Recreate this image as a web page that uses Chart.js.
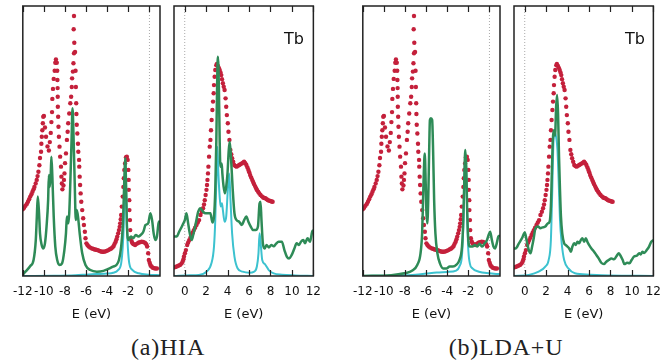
<!DOCTYPE html>
<html>
<head>
<meta charset="utf-8">
<script src="https://cdn.jsdelivr.net/npm/chart.js@4.4.1/dist/chart.umd.min.js"></script>
<style>
  body { margin: 0; background: #fff; width: 670px; height: 362px; position: relative; overflow: hidden; }
  canvas { position: absolute; top: 0; }
  .tb { position: absolute; top: 31px; font: 16px/16px "DejaVu Sans", sans-serif; color: #111; }
  .cap { position: absolute; top: 336px; width: 200px; text-align: center; font: 24px/22px "Liberation Serif", serif; letter-spacing: 0.8px; color: #222; }
</style>
</head>
<body>
<canvas id="p1" width="171" height="330" style="left:4px"></canvas>
<canvas id="p2" width="171" height="330" style="left:159px"></canvas>
<canvas id="p3" width="171" height="330" style="left:344px"></canvas>
<canvas id="p4" width="171" height="330" style="left:499px"></canvas>
<div class="tb" style="left:284px">Tb</div>
<div class="tb" style="left:625px">Tb</div>
<div class="cap" style="left:68px">(a)HIA</div>
<div class="cap" style="left:406px">(b)LDA+U</div>
<script>
// tick labels
const valTicks = [-12, -10, -8, -6, -4, -2, 0];
const condTicks = [0, 2, 4, 6, 8, 10, 12];

// experiment (red dots), [E, intensity]
const expVal = [[-12,24.7],[-11.88,25.3],[-11.75,26],[-11.62,26.7],[-11.51,27.5],[-11.4,28.4],[-11.29,29.4],[-11.18,30.3],
  [-11.08,31.2],[-10.98,32.1],[-10.9,33],[-10.78,34.3],[-10.68,35.6],[-10.6,37],[-10.52,38.6],
  [-10.43,41],[-10.37,43.7],[-10.27,46],[-10.24,49],[-10.2,51.6],[-10.15,54],[-10.1,56.6],[-10.06,59],[-10.0,59.3],
  [-9.9,55],[-9.8,51.6],[-9.66,48],[-9.53,46.5],[-9.44,49.6],[-9.35,53],[-9.29,57],[-9.23,60.7],[-9.2,65.6],[-9.14,69.3],
  [-9.07,73],[-8.98,76],[-8.92,79],[-8.86,80.2],[-8.78,79],[-8.74,76],[-8.72,72.6],[-8.7,69.6],[-8.69,66.4],[-8.68,62.7],
  [-8.65,59],[-8.62,55.3],[-8.58,51.6],[-8.52,47.9],[-8.46,44.2],[-8.38,40.5],[-8.34,36.8],[-8.3,34.3],[-8.25,32.1],
  [-8.15,33.5],[-8.1,35.6],[-8.05,38],[-8.0,41.8],[-7.91,45.4],[-7.82,50.4],[-7.75,53.4],[-7.7,56.6],[-7.6,60.2],[-7.5,64],
  [-7.42,66.4],[-7.36,70],[-7.33,73.2],[-7.25,75.7],[-7.2,78.8],[-7.15,82.5],[-7.12,86.4],[-7.18,91.4],[-7.15,96.3],
  [-7.05,83],[-7.0,76],[-6.97,70],[-6.94,64],[-6.92,60],[-6.89,56],[-6.83,52.8],[-6.77,49],[-6.74,46],[-6.67,43],
  [-6.65,40.5],[-6.61,36.8],[-6.57,33.7],[-6.52,30.6],[-6.46,27.5],[-6.37,24.4],[-6.28,21.4],[-6.21,18.9],[-6.12,16.4],
  [-6.06,14],[-5.97,12.1],[-5.86,11.4],[-5.75,10.9],[-5.6,10.5],[-5.44,10.2],[-5.3,10],[-5.18,9.8],[-5.05,9.7],[-4.95,9.6],
  [-4.85,9.5],[-4.72,9.3],[-4.6,9.1],[-4.47,9.0],[-4.35,9.0],[-4.2,9.1],
  [-4.05,9.3],[-3.9,9.6],[-3.75,9.9],[-3.62,10.2],[-3.5,10.6],[-3.39,11.1],[-3.3,11.9],[-3.2,12.7],[-3.12,13.6],[-3.05,14.6],[-2.96,15.8],[-2.89,17],[-2.82,18.2],[-2.77,19.5],[-2.72,21],[-2.68,22.6],
  [-2.62,25.7],[-2.53,29.4],[-2.47,33],[-2.43,36.2],[-2.38,39.3],[-2.31,41.7],[-2.22,44],[-2.14,44.2],[-2.06,43],[-2.0,39.3],
  [-1.97,35.6],[-1.96,31.9],[-1.91,28.1],[-1.9,24.4],[-1.85,20.7],[-1.82,17],[-1.76,14],[-1.68,12.8],[-1.6,12.1],[-1.5,11.8],
  [-1.36,11.5],[-1.2,11.9],[-1.05,12.3],[-0.9,12.5],[-0.74,12.7],[-0.6,12.6],[-0.43,12.3],[-0.3,11.8],[-0.22,10.9],
  [-0.12,8.4],[-0.06,5.9],[0.02,4.9],[0.09,4.1],[0.2,3.5],[0.31,3.1],[0.43,2.9],[0.55,2.8],[0.71,2.8]];
const expCond = [[-1,3.2],[-0.88,3.3],[-0.75,3.5],[-0.6,3.8],[-0.44,4.1],[-0.3,4.6],[-0.2,5.3],[-0.12,6.2],[-0.07,7.2],[0.02,8.4],[0.11,9.6],[0.23,11.5],[0.32,12.4],[0.42,13.3],[0.53,14.2],[0.64,15.2],
  [0.75,16.1],[0.85,17],[0.97,17.9],[1.1,18.9],[1.22,19.8],[1.34,20.7],[1.47,22.6],[1.6,23.8],[1.71,25.1],[1.8,26.5],[1.87,28.1],[1.95,30],[2.03,31.9],[2.08,33.7],[2.12,35.6],[2.17,38],[2.21,40.5],[2.27,44.2],
  [2.33,47.9],[2.4,50.4],[2.45,54],[2.51,57.8],[2.58,61.5],[2.64,64.6],[2.7,67.7],[2.73,70.7],[2.79,73.8],[2.85,76.3],
  [2.95,78.1],[3.0,78.5],[3.1,77.8],[3.18,77.1],[3.26,76.3],[3.34,75.4],[3.41,74.4],[3.48,72.9],[3.56,71.4],[3.64,70.1],[3.72,68.9],[3.81,65.8],[3.87,62.7],[3.93,59.6],
  [4.02,56.6],[4.08,53.4],[4.17,50.4],[4.26,46.7],[4.34,45.1],[4.42,43.6],[4.52,42.3],[4.62,41.1],[4.73,40.7],[4.84,40.5],[4.96,40.8],[5.08,41.1],[5.2,41.4],[5.33,41.7],[5.44,42],[5.54,42.3],[5.65,41.8],
  [5.75,41.1],[5.85,40.2],[5.94,39.3],[6.02,38.4],[6.1,37.4],[6.2,36.5],[6.3,35.6],[6.38,34.8],[6.46,34.1],[6.56,33.3],[6.66,32.5],[6.75,31.8],[6.85,31.2],[6.96,30.6],[7.07,30],[7.2,29.5],[7.32,29.1],[7.42,28.9],[7.53,28.8],[7.65,28.4],
  [7.77,28.1],[7.88,27.9],[7.99,27.8],[8.1,27.6],[8.2,27.5]];

// HIA: total (green) and Tb (cyan)
const hiaValTot = [[-12,0.5],[-11.75,1.6],[-11.29,3.7],[-10.98,5.9],[-10.77,13.3],[-10.67,22],[-10.58,29.4],[-10.46,23.2],
  [-10.37,15.8],[-10.21,11.5],[-10.06,10.2],[-9.9,12.1],[-9.75,18.3],[-9.6,28.1],[-9.53,37.4],[-9.44,33],[-9.35,38],
  [-9.29,44.2],[-9.2,36.8],[-9.07,22],[-8.92,10.9],[-8.74,5.9],[-8.52,4.1],[-8.28,4.7],[-8.06,9.6],[-7.91,15.8],[-7.82,22],
  [-7.69,19.5],[-7.6,23.2],[-7.5,34.3],[-7.38,50.4],[-7.29,62.1],[-7.2,52.8],[-7.08,34.3],[-6.98,20.7],[-6.89,24.4],
  [-6.77,22],[-6.61,15.8],[-6.37,8.4],[-6.06,4.1],[-5.6,2.2],[-4.98,1.6],[-4.36,1.9],[-3.9,2.6],[-3.44,3.5],[-3.13,4.1],
  [-2.89,5.9],[-2.68,10.9],[-2.53,18.3],[-2.44,28.1],[-2.34,40.5],[-2.29,43.6],[-2.22,34.3],[-2.13,18.3],[-1.97,13.3],
  [-1.76,14.6],[-1.55,14],[-1.29,15.2],[-1.05,14.6],[-0.83,15.2],[-0.58,16.4],[-0.37,18.9],[-0.12,19.5],[0.09,23.2],
  [0.25,20.7],[0.4,15.8],[0.55,13.3],[0.71,14.6],[0.86,19.5],[1,20.5]];
const hiaValTb = [[-12,0],[-9,0.1],[-7,0.3],[-6,0.5],[-5,0.7],[-4,0.9],[-3.44,1.2],[-2.98,2.2],[-2.68,4.7],[-2.53,10.9],
  [-2.44,18.3],[-2.34,34.3],[-2.29,42],[-2.22,34],[-2.13,18],[-2.03,9.6],[-1.91,4.7],[-1.6,2.2],[-1.0,1],[-0.1,0.5],[1,0.3]];
const hiaCondTot = [[-1,14.6],[-0.75,14.6],[-0.52,16.4],[-0.2,18.9],[0.01,20.7],[0.16,23.2],[0.32,19.5],[0.47,15.8],
  [0.64,13.3],[0.79,15.2],[1.03,19.5],[1.26,23.8],[1.47,25.1],[1.71,23.8],[1.95,23.2],[2.17,23.2],[2.4,23.2],[2.58,19.8],
  [2.73,22],[2.85,31.9],[2.95,50.4],[3.04,75],[3.1,81.2],[3.19,68.9],[3.26,50.4],[3.33,40.5],[3.45,41.7],[3.51,38],
  [3.63,33],[3.75,30.6],[3.87,33],[3.99,38],[4.11,46.7],[4.2,49.7],[4.33,42.9],[4.48,31.9],[4.64,23.2],[4.84,20.7],
  [5.08,20.1],[5.33,18.9],[5.54,20.7],[5.75,22],[5.94,20.1],[6.16,18.3],[6.37,17],[6.62,17],[6.83,18.3],[6.98,26.9],
  [7.07,27.5],[7.16,20.7],[7.29,12.1],[7.45,10.2],[7.63,11.5],[7.84,10.6],[8.08,11.5],[8.3,11],[8.51,11.9],[8.76,12.7],
  [9.06,12.7],[9.3,9.6],[9.52,7.2],[9.74,6.5],[9.98,7.8],[10.23,10.2],[10.44,12.1],[10.66,11.5],[10.84,12.7],[11.06,13.3],
  [11.21,12.1],[11.46,14],[11.68,12.7],[11.89,16.4],[12,17]];
const hiaCondTb = [[-1,0],[0.47,0.3],[1.32,0.4],[2.03,1.6],[2.49,4.7],[2.73,10.9],[2.85,20.7],[2.95,35.6],[3.04,47.9],
  [3.14,38],[3.26,29.4],[3.35,25.7],[3.47,26.9],[3.56,24.4],[3.72,20.1],[3.87,22],[4.02,31.9],[4.15,38],[4.27,28.1],
  [4.42,15.8],[4.64,7.2],[4.94,2.8],[5.4,1.6],[6.02,1.2],[6.48,1.6],[6.73,3.5],[6.88,8.4],[6.98,15.8],[7.11,10.9],
  [7.23,5.9],[7.48,4.4],[7.63,3.5],[7.84,2.2],[8.3,1],[9.06,0.5],[10.3,0.2],[12,0]];

// LDA+U: total (green) and Tb (cyan)
const ldaValTot = [[-12,0],[-9.3,0.3],[-8.07,1],[-7.3,2],[-6.84,4.1],[-6.53,8.4],[-6.38,15.8],[-6.29,28.1],[-6.22,38],
  [-6.13,45.4],[-6.04,34.3],[-5.98,24.4],[-5.89,19.5],[-5.8,28.1],[-5.71,46.7],[-5.64,57.8],[-5.55,58.4],[-5.43,57.8],
  [-5.34,46.7],[-5.24,28.1],[-5.12,15.8],[-4.93,8.4],[-4.69,4.7],[-4.38,2.8],[-4.07,2.8],[-3.77,3.5],[-3.46,3.5],
  [-3.15,4.1],[-2.85,5.9],[-2.6,10.9],[-2.48,20.7],[-2.39,34.3],[-2.29,46.7],[-2.2,40.5],[-2.11,24.4],[-2.02,14.6],
  [-1.86,10.9],[-1.61,10.9],[-1.37,11.5],[-1.15,10.9],[-0.94,11.9],[-0.69,10.9],[-0.45,12.1],[-0.23,13.3],[-0.08,15.2],
  [0.07,16.4],[0.23,13.3],[0.38,10.9],[0.53,10.2],[0.69,12.1],[0.84,14.6],[1,15]];
const ldaValTb = [[-12,0],[-9,0.2],[-7,0.5],[-6,0.9],[-5,1.3],[-4,1.5],[-3.15,2.0],[-2.85,3.5],[-2.6,7.8],[-2.48,18],
  [-2.39,33],[-2.29,45.6],[-2.2,39],[-2.11,23],[-2.02,10.9],[-1.86,4.7],[-1.61,2.8],[-1,1.6],[-0.08,1],[1,0.7]];
const ldaCondTot = [[-1,10.2],[-0.85,10.2],[-0.54,12.1],[-0.25,14],[0.01,16.1],[0.17,13.3],[0.38,9.6],[0.54,8.4],
  [0.69,10.9],[0.84,14],[1.0,17.7],[1.24,18.3],[1.46,17.7],[1.67,18],[1.92,18.3],[2.16,19.5],[2.32,20.1],[2.44,25.7],
  [2.53,38],[2.62,50.4],[2.71,54],[2.83,52],[2.93,62.7],[3.02,67],[3.11,60.2],[3.2,44.2],[3.29,31.9],[3.38,22],[3.5,15.8],
  [3.68,12.1],[3.81,11.5],[3.99,10.9],[4.15,10.2],[4.3,9],[4.45,10.9],[4.61,12.1],[4.76,11.5],[4.92,12.7],[5.07,12.1],
  [5.23,13.3],[5.38,14],[5.54,12.7],[5.7,14],[5.84,12.7],[6,11.5],[6.22,10.2],[6.47,9],[6.68,7.8],[6.9,6.5],[7.14,4.9],
  [7.39,4.4],[7.61,5.3],[7.83,5.9],[8.08,6.5],[8.33,6.2],[8.54,7.2],[8.76,8.4],[8.94,7.5],[9.14,5.9],[9.3,4.4],[9.55,4.9],
  [9.77,4.7],[9.97,5.9],[10.2,7.2],[10.46,7.5],[10.68,8.4],[10.83,8],[10.98,9],[11.14,8.5],[11.38,9.6],[11.6,10.9],
  [11.81,12.7],[12,13.3]];
const ldaCondTb = [[-1,0],[0.38,0.4],[1.3,1.6],[1.92,3.5],[2.23,5.9],[2.44,13.3],[2.57,31.9],[2.69,50.4],[2.84,53],
  [2.95,51],[3.05,47],[3.16,36],[3.29,20.7],[3.45,12.1],[3.68,5.9],[4.07,2.8],[4.68,1],[6,0.5],[7.9,0.2],[12,0]];

const RED = '#c4203b', GREEN = '#2e8b57', CYAN = '#3cc2cf';

function pts(arr) { return arr.map(p => ({x: p[0], y: p[1]})); }

// frame, inward ticks top and bottom, dotted line at E = 0
const framePlugin = {
  id: 'frame',
  beforeDatasetsDraw(chart) {
    const {ctx, chartArea: a, scales: {x}} = chart;
    const px = x.getPixelForValue(0);
    ctx.save();
    ctx.strokeStyle = '#aaa';
    ctx.lineWidth = 1;
    ctx.setLineDash([1, 2]);
    ctx.beginPath();
    ctx.moveTo(px, a.top);
    ctx.lineTo(px, a.bottom);
    ctx.stroke();
    ctx.restore();
  },
  afterDatasetsDraw(chart) {
    const {ctx, chartArea: a, scales: {x}} = chart;
    ctx.save();
    ctx.strokeStyle = '#222';
    ctx.lineWidth = 1.2;
    x.ticks.forEach(t => {
      const px = Math.round(x.getPixelForValue(t.value)) + 0.5;
      ctx.beginPath();
      ctx.moveTo(px, a.top); ctx.lineTo(px, a.top + 6);
      ctx.moveTo(px, a.bottom); ctx.lineTo(px, a.bottom - 6);
      ctx.stroke();
    });
    ctx.lineWidth = 1.5;
    ctx.strokeRect(a.left, a.top, a.right - a.left, a.bottom - a.top);
    ctx.restore();
  }
};

function makePanel(id, xmin, xmax, ticks, exp, tot, tb) {
  new Chart(document.getElementById(id), {
    type: 'line',
    data: {
      datasets: [
        { data: pts(tot), borderColor: GREEN, borderWidth: 2.5, pointRadius: 0, cubicInterpolationMode: 'monotone' },
        { data: pts(tb), borderColor: CYAN, borderWidth: 2, pointRadius: 0, cubicInterpolationMode: 'monotone' },
        { data: pts(exp), showLine: false, pointRadius: 2.2, pointBackgroundColor: RED, pointBorderWidth: 0 }
      ]
    },
    options: {
      responsive: false,
      animation: false,
      layout: { padding: { left: 15, right: 15, top: 6, bottom: 0 } },
      plugins: { legend: { display: false }, tooltip: { enabled: false } },
      scales: {
        x: {
          type: 'linear', min: xmin, max: xmax,
          afterBuildTicks: s => { s.ticks = ticks.map(v => ({value: v})); },
          afterFit: s => { s.height = 54; },
          grid: { display: false, drawTicks: false },
          border: { display: false },
          ticks: { font: { family: 'DejaVu Sans', size: 12 }, color: '#111', padding: 9, maxRotation: 0, autoSkip: false },
          title: { display: true, text: 'E (eV)', color: '#111', font: { family: 'DejaVu Sans', size: 13 }, padding: { top: 0, bottom: 8 } }
        },
        y: { display: false, min: 0, max: 100 }
      }
    },
    plugins: [framePlugin]
  });
}

makePanel('p1', -12, 1, valTicks, expVal, hiaValTot, hiaValTb);
makePanel('p2', -1, 12, condTicks, expCond, hiaCondTot, hiaCondTb);
makePanel('p3', -12, 1, valTicks, expVal, ldaValTot, ldaValTb);
makePanel('p4', -1, 12, condTicks, expCond, ldaCondTot, ldaCondTb);
</script>
</body>
</html>
